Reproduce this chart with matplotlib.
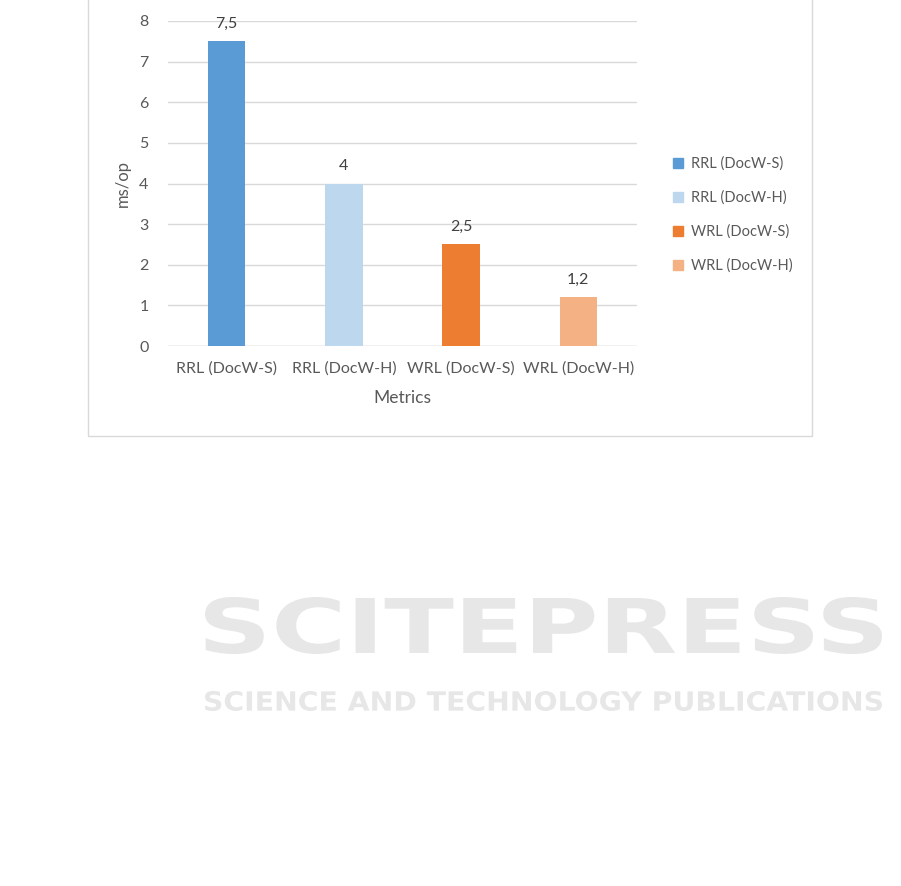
import matplotlib.pyplot as plt
from matplotlib.patches import Rectangle, Patch, PathPatch
from matplotlib.textpath import TextPath
from matplotlib.font_manager import FontProperties
from matplotlib.transforms import Affine2D

plt.rcParams["font.family"] = ["Lato", "DejaVu Sans"]

# 데이터
categories = ["RRL (DocW-S)", "RRL (DocW-H)", "WRL (DocW-S)", "WRL (DocW-H)"]
values = [7.5, 4, 2.5, 1.2]
value_labels = ["7,5", "4", "2,5", "1,2"]
colors = ["#5b9bd5", "#bdd7ee", "#ed7d31", "#f4b183"]
txt = "#595959"

W, H = 901, 886
fig = plt.figure(figsize=(W / 100, H / 100), dpi=100)

# 차트 테두리
fig.patches.append(Rectangle((88 / W, 1 - 436 / H), (812 - 88) / W, 436 / H + 0.01,
                             transform=fig.transFigure, fill=False,
                             edgecolor="#d9d9d9", linewidth=1))

ax = fig.add_axes([168 / W, 1 - 346 / H, (637 - 168) / W, (346 - 21) / H])
x = range(len(categories))
bars = ax.bar(x, values, width=0.32, color=colors, zorder=3)
for b, lab in zip(bars, value_labels):
    ax.text(b.get_x() + b.get_width() / 2, b.get_height() + 0.25, lab,
            ha="center", va="bottom", fontsize=11.5, color="#404040")

ax.set_ylim(0, 8)
ax.set_xlim(-0.5, 3.5)
ax.set_yticks(range(0, 9))
ax.set_xticks(list(x))
ax.set_xticklabels(categories)
ax.tick_params(axis="both", length=0, labelsize=11.5, colors=txt)
ax.tick_params(axis="y", pad=14)
ax.tick_params(axis="x", pad=11)
ax.grid(axis="y", color="#d9d9d9", linewidth=1, zorder=0)
for s in ax.spines.values():
    s.set_visible(False)
ax.axhline(0, color="#d9d9d9", linewidth=1, zorder=1)
ax.set_ylabel("ms/op", fontsize=12, color=txt, labelpad=6)
ax.set_xlabel("Metrics", fontsize=12.5, color=txt, labelpad=10)

handles = [Patch(color=c) for c in colors]
fig.legend(handles, categories, loc="center left", bbox_to_anchor=(660 / W, 1 - 215 / H),
           frameon=False, fontsize=10.5, labelcolor=txt, handlelength=0.7, handleheight=0.7,
           labelspacing=1.35, handletextpad=0.5)


# 워터마크 (픽셀 박스에 맞춰 늘림)
def stamp(s, x0, x1, y0, y1):
    tp = TextPath((0, 0), s, size=50, prop=FontProperties(family="DejaVu Sans", weight="bold"))
    bb = tp.get_extents()
    tr = (Affine2D().translate(-bb.x0, -bb.y0)
          .scale((x1 - x0) / bb.width / W, (y1 - y0) / bb.height / H)
          .translate(x0 / W, 1 - y1 / H) + fig.transFigure)
    fig.patches.append(PathPatch(tp, transform=tr, facecolor="#e6e7e6", edgecolor="none"))


stamp("SCITEPRESS", 205, 882, 597, 654)
stamp("SCIENCE AND TECHNOLOGY PUBLICATIONS", 205, 882, 691, 711)

fig.savefig("out.png", dpi=100)
